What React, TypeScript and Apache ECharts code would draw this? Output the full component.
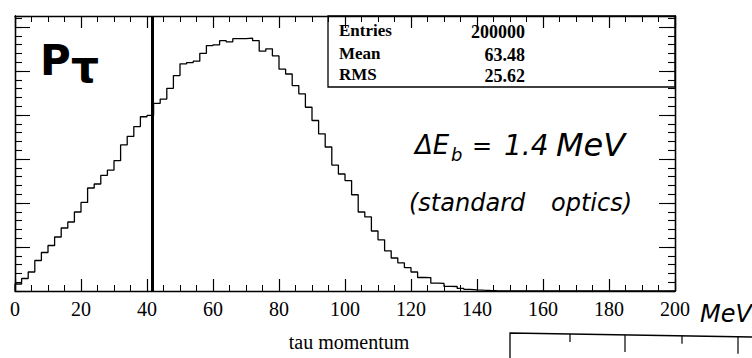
import React, { useEffect, useRef } from "react";
import * as echarts from "echarts";

// ---- data ----
const binWidth = 2; // tau momentum bins [MeV]
const xRange = [0, 200];
const xTickStep = 20;
const yMax = 6250;
const yMajorStep = 1000;
const yMinorStep = 200;
const binCounts = [
  159, 284, 432, 693, 875, 1034, 1227, 1432, 1568, 1796,
  2012, 2341, 2432, 2630, 2748, 2962, 3319, 3512, 3737, 3960,
  3991, 4266, 4362, 4607, 4896, 5164, 5192, 5223, 5401, 5578,
  5596, 5689, 5662, 5735, 5737, 5746, 5689, 5451, 5505, 5342,
  5044, 4932, 4669, 4482, 4176, 3875, 3573, 3273, 2862, 2659,
  2509, 2187, 1796, 1684, 1364, 1162, 914, 750, 641, 530,
  432, 307, 305, 177, 175, 105, 102, 59, 39, 27,
  18, 11, 7, 4, 2, 0, 0, 0, 0, 0,
  0, 0, 0, 0, 0, 0, 0, 0, 0, 0,
  0, 0, 0, 0, 0, 0, 0, 0, 0, 0,
];
const cutValue = 41.5;
const statLabels = ["Entries", "Mean", "RMS"];
const statValues = ["200000", "63.48", "25.62"];
const axisTitle = "tau momentum";

const serif = "'Liberation Serif', 'DejaVu Serif', serif";
const hand = "'DejaVu Sans', sans-serif";

function buildHist() {
  const pts: [number, number][] = [[xRange[0], 0]];
  binCounts.forEach((c, i) => pts.push([xRange[0] + i * binWidth, c]));
  pts.push([xRange[0] + binCounts.length * binWidth, binCounts[binCounts.length - 1]]);
  return pts;
}

function xAxisDef(pos: "bottom" | "top", labels: boolean) {
  return {
    type: "value",
    position: pos,
    min: xRange[0],
    max: xRange[1],
    interval: xTickStep,
    axisLine: { show: true, onZero: false, lineStyle: { color: "#000", width: 1.3 } },
    axisTick: { show: true, inside: true, length: 12, lineStyle: { color: "#000", width: 1.2 } },
    minorTick: { show: true, splitNumber: 4, length: 6, lineStyle: { color: "#000", width: 1 } },
    splitLine: { show: false },
    minorSplitLine: { show: false },
    axisLabel: {
      show: labels,
      color: "#000",
      fontFamily: serif,
      fontSize: 20,
      margin: 8,
    },
  };
}

function yAxisDef(pos: "left" | "right", step: number, len: number) {
  return {
    type: "value",
    position: pos,
    min: 0,
    max: yMax,
    interval: step,
    axisLine: { show: true, onZero: false, lineStyle: { color: "#000", width: 1.3 } },
    axisTick: { show: true, inside: true, length: len, lineStyle: { color: "#000", width: 1.1 } },
    splitLine: { show: false },
    axisLabel: { show: false },
  };
}

function txt(text: string, x: number, y: number, o: any = {}) {
  return {
    type: "text",
    x,
    y,
    silent: true,
    style: {
      text,
      fill: "#000",
      fontFamily: o.fontFamily || serif,
      fontSize: o.fontSize || 17,
      fontWeight: o.fontWeight || "normal",
      fontStyle: o.fontStyle || "normal",
      textAlign: o.align || "left",
      align: o.align || "left",
      textVerticalAlign: "middle",
      verticalAlign: "middle",
    },
  };
}

export default function App() {
  const ref = useRef<HTMLDivElement>(null);
  useEffect(() => {
    document.body.style.margin = "0";
    const chart = echarts.init(ref.current!, null, { renderer: "svg" });
    const statRowsY = [30, 53, 74];
    const graphic: any[] = [
      {
        type: "rect",
        silent: true,
        shape: { x: 328, y: 16, width: 347, height: 71 },
        style: { fill: "none", stroke: "#000", lineWidth: 1.3 },
      },
      ...statLabels.map((s, i) => txt(s, 339, statRowsY[i], { fontSize: 17, fontWeight: "bold" })),
      ...statValues.map((s, i) => txt(s, 525, statRowsY[i] + 2, { fontSize: 18, fontWeight: "bold", align: "right" })),
      txt(axisTitle, 349, 342, { fontSize: 20, align: "center" }),
      // handwritten annotations
      txt("P", 40, 60, { fontFamily: hand, fontSize: 42, fontWeight: "bold" }),
      txt("τ", 71, 66, { fontFamily: hand, fontSize: 44, fontWeight: "bold" }),
      txt("ΔE", 415, 145, { fontFamily: hand, fontSize: 26, fontStyle: "italic" }),
      txt("b", 451, 154, { fontFamily: hand, fontSize: 18, fontStyle: "italic" }),
      txt("=", 472, 146, { fontFamily: hand, fontSize: 24 }),
      txt("1.4", 504, 145, { fontFamily: hand, fontSize: 28, fontStyle: "italic" }),
      txt("MeV", 556, 145, { fontFamily: hand, fontSize: 32, fontStyle: "italic" }),
      txt("(standard", 409, 203, { fontFamily: hand, fontSize: 24, fontStyle: "italic" }),
      txt("optics)", 551, 203, { fontFamily: hand, fontSize: 24, fontStyle: "italic" }),
      txt("MeV", 700, 314, { fontFamily: hand, fontSize: 24, fontStyle: "italic" }),
      // partial frame of the next panel
      {
        type: "polyline",
        silent: true,
        shape: { points: [[510, 358], [510, 333], [752, 337]] },
        style: { fill: "none", stroke: "#000", lineWidth: 1.3 },
      },
      ...[
        [570, 8],
        [625, 17],
        [682, 8],
        [738, 17],
      ].map(([x, l]) => ({
        type: "line",
        silent: true,
        shape: { x1: x, y1: 333 + ((x - 510) / 242) * 4, x2: x, y2: 333 + ((x - 510) / 242) * 4 + l },
        style: { stroke: "#000", lineWidth: 1.2 },
      })),
    ];

    chart.setOption({
      animation: false,
      backgroundColor: "#fff",
      grid: { left: 15, right: 77, top: 16, bottom: 67, containLabel: false },
      xAxis: [xAxisDef("bottom", true), xAxisDef("top", false)],
      yAxis: [
        yAxisDef("left", yMinorStep, 7),
        yAxisDef("left", yMajorStep, 15),
        yAxisDef("right", yMinorStep, 7),
        yAxisDef("right", yMajorStep, 16),
      ],
      series: [
        {
          type: "line",
          xAxisIndex: 0,
          yAxisIndex: 0,
          step: "end",
          symbol: "none",
          data: buildHist(),
          lineStyle: { color: "#000", width: 1.3 },
          markLine: {
            silent: true,
            symbol: "none",
            label: { show: false },
            lineStyle: { color: "#000", width: 3, type: "solid" },
            data: [{ xAxis: cutValue }],
          },
        },
      ],
      graphic,
    });
    return () => chart.dispose();
  }, []);
  return <div ref={ref} style={{ width: 752, height: 358 }} />;
}
